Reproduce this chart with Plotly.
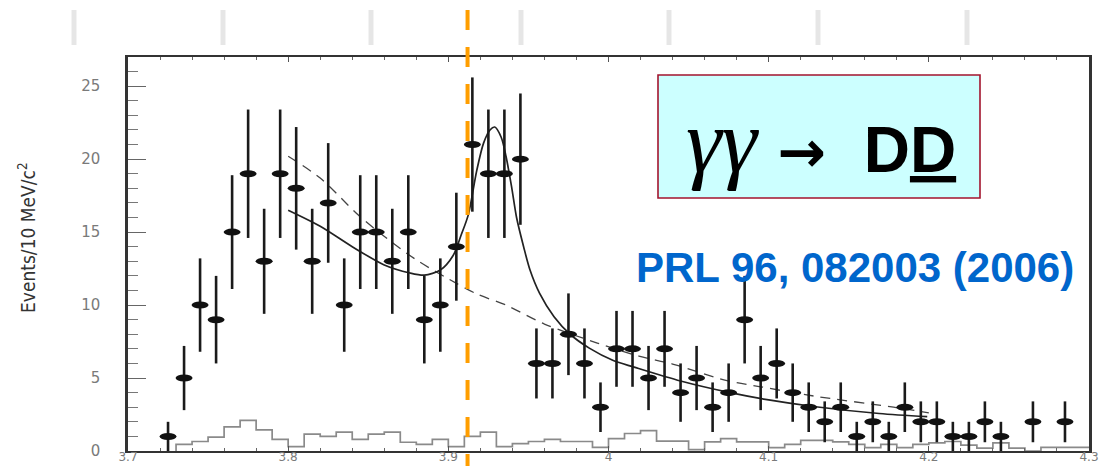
import plotly.graph_objects as go

# ---------------- data ----------------
mass = [3.725, 3.735, 3.745, 3.755, 3.765, 3.775, 3.785, 3.795, 3.805, 3.815,
        3.825, 3.835, 3.845, 3.855, 3.865, 3.875, 3.885, 3.895, 3.905, 3.915,
        3.925, 3.935, 3.945, 3.955, 3.965, 3.975, 3.985, 3.995, 4.005, 4.015,
        4.025, 4.035, 4.045, 4.055, 4.065, 4.075, 4.085, 4.095, 4.105, 4.115,
        4.125, 4.135, 4.145, 4.155, 4.165, 4.175, 4.185, 4.195, 4.205, 4.215,
        4.225, 4.235, 4.245, 4.265, 4.285]
events = [1, 5, 10, 9, 15, 19, 13, 19, 18, 13,
          17, 10, 15, 15, 13, 15, 9, 10, 14, 21,
          19, 19, 20, 6, 6, 8, 6, 3, 7, 7,
          5, 7, 4, 5, 3, 4, 9, 5, 6, 4,
          3, 2, 3, 1, 2, 1, 3, 2, 2, 1,
          1, 2, 1, 2, 2]
errors = [1.0, 2.2, 3.2, 3.0, 3.9, 4.4, 3.6, 4.4, 4.2, 3.6,
          4.1, 3.2, 3.9, 3.9, 3.6, 3.9, 3.0, 3.2, 3.7, 4.6,
          4.4, 4.4, 4.5, 2.4, 2.4, 2.8, 2.4, 1.7, 2.6, 2.6,
          2.2, 2.6, 2.0, 2.2, 1.7, 2.0, 3.0, 2.2, 2.4, 2.0,
          1.7, 1.4, 1.7, 1.0, 1.4, 1.0, 1.7, 1.4, 1.4, 1.0,
          1.0, 1.4, 1.0, 1.4, 1.4]

# background (sideband) histogram: lower bin edges and contents
hist_lo = [3.73, 3.74, 3.75, 3.76, 3.77, 3.78, 3.79, 3.80, 3.81, 3.82,
           3.83, 3.84, 3.85, 3.86, 3.87, 3.88, 3.89, 3.90, 3.91, 3.92,
           3.93, 3.94, 3.95, 3.96, 3.97, 3.98, 3.99, 4.00, 4.01, 4.02,
           4.03, 4.04, 4.05, 4.06, 4.07, 4.08, 4.09, 4.10, 4.11, 4.12,
           4.13, 4.14, 4.15, 4.16, 4.17, 4.18, 4.19, 4.20, 4.21, 4.22,
           4.23, 4.24, 4.25, 4.26, 4.27, 4.28, 4.29]
hist_val = [0.45, 0.65, 0.95, 1.65, 2.1, 1.45, 0.8, 0.3, 1.15, 1.0,
            1.3, 0.8, 1.15, 1.3, 0.6, 0.45, 0.8, 0.3, 1.0, 1.3,
            0.3, 0.5, 0.65, 0.8, 0.65, 0.65, 0.25, 0.85, 1.2, 1.4,
            0.68, 0.68, 0.1, 0.62, 0.85, 0.62, 0.62, 0.23, 0.45, 0.73,
            0.73, 0.62, 0.45, 0.23, 0.45, 0.23, 0.45, 0.55, 0.65, 0.4,
            0.2, 0.55, 0.2, 0.0, 0.25, 0.25, 0.25]
hist_hi = 4.30

# fit: signal + background (solid)
fit_x = [3.800, 3.820, 3.840, 3.860, 3.876, 3.885, 3.895, 3.903, 3.908, 3.9125,
         3.9177, 3.922, 3.926, 3.929, 3.933, 3.936, 3.9395, 3.9426, 3.947, 3.951,
         3.957, 3.966, 3.976, 3.988, 4.003, 4.016, 4.045, 4.076, 4.100, 4.128,
         4.169, 4.199]
fit_y = [16.5, 15.4, 14.0, 12.75, 12.2, 12.05, 12.4, 13.4, 14.8, 16.2,
         19.2, 21.1, 22.0, 22.2, 21.5, 20.2, 18.1, 16.0, 14.0, 12.4,
         10.8, 9.2, 8.0, 7.05, 6.2, 5.75, 4.8, 4.0, 3.5, 3.05,
         2.57, 2.35]

# background-only fit (dashed)
bg_x = [3.800, 3.820, 3.845, 3.866, 3.880, 3.900, 3.918, 3.936, 3.960, 3.993,
        4.019, 4.040, 4.074, 4.095, 4.128, 4.178, 4.200]
bg_y = [20.2, 18.7, 16.05, 14.2, 13.1, 11.8, 10.75, 10.0, 8.7, 7.4,
        6.5, 5.96, 4.82, 4.4, 3.77, 3.0, 2.62]

x_tickvals = [3.7, 3.8, 3.9, 4.0, 4.1, 4.2, 4.3]
x_ticktext = ["3.7", "3.8", "3.9", "4", "4.1", "4.2", "4.3"]
y_tickvals = [0, 5, 10, 15, 20, 25]
y_ticktext = ["0", "5", "10", "15", "20", "25"]

marker_line_x = 3.912          # orange dashed marker position
deco_bar_px = [74, 223, 371, 521, 669, 818, 967]   # slide decoration (pixels)

# ---------------- layout geometry ----------------
W_PX, H_PX = 1099, 466
L, R, T, B = 128, 1089, 57, 451


def px(x):
    return (x - L) / (R - L)


def py(y):
    return (B - y) / (B - T)


fig = go.Figure()

# background histogram (step)
step_x = [hist_lo[0]] + hist_lo + [hist_hi]
step_y = [0] + hist_val + [hist_val[-1]]
fig.add_trace(go.Scatter(x=step_x, y=step_y, mode="lines", line_shape="hv",
                         line=dict(color="#8a8a8a", width=1.7),
                         hoverinfo="skip", showlegend=False))

# background-only curve (dashed)
fig.add_trace(go.Scatter(x=bg_x, y=bg_y, mode="lines", line_shape="spline",
                         line=dict(color="#444444", width=1.3, dash="10px,7px",
                                   smoothing=0.9),
                         hoverinfo="skip", showlegend=False))

# signal + background fit (solid)
fig.add_trace(go.Scatter(x=fit_x, y=fit_y, mode="lines", line_shape="spline",
                         line=dict(color="#222222", width=1.7, smoothing=0.8),
                         hoverinfo="skip", showlegend=False))

# data with error bars
fig.add_trace(go.Scatter(x=mass, y=events, mode="markers",
                         marker=dict(size=2, color="#111111"),
                         error_y=dict(type="data", array=errors, visible=True,
                                      color="#1a1a1a", thickness=2.6, width=0),
                         showlegend=False))

shapes = []
# decorative light-gray bars at top of slide
for bx in deco_bar_px:
    shapes.append(dict(type="line", xref="paper", yref="paper",
                       x0=px(bx), x1=px(bx), y0=py(10), y1=py(45),
                       line=dict(color="#e6e6e6", width=5), layer="above"))

# orange dashed vertical marker
shapes.append(dict(type="line", xref="x", yref="paper",
                   x0=marker_line_x, x1=marker_line_x, y0=py(10), y1=py(470),
                   line=dict(color="#FF9E00", width=4, dash="20px,17px"),
                   layer="above"))

# elliptical data markers
for m, v in zip(mass, events):
    shapes.append(dict(type="circle", xref="x", yref="y",
                       x0=m - 0.0053, x1=m + 0.0053, y0=v - 0.24, y1=v + 0.24,
                       fillcolor="#111111", line=dict(width=0), layer="above"))

# reaction label box
shapes.append(dict(type="rect", xref="paper", yref="paper",
                   x0=px(658), x1=px(980), y0=py(198), y1=py(75),
                   fillcolor="#CCFFFF", line=dict(color="#A3142E", width=1.6),
                   layer="above"))

annotations = [
    dict(xref="paper", yref="paper", x=px(821), y=py(141),
         xanchor="center", yanchor="middle", showarrow=False,
         text=('<span style="font-family:Liberation Serif;font-style:italic;'
               'font-size:90px">γγ</span>'
               '<span style="font-family:DejaVu Sans;font-weight:bold;'
               'font-size:58px">\u00a0→\u00a0</span>'
               '<span style="font-family:Liberation Sans;font-weight:bold;'
               'font-size:64px">\u00a0D<u>D</u></span>'),
         font=dict(color="#000000", size=62, family="Liberation Sans")),
    dict(xref="paper", yref="paper", x=px(855), y=py(267),
         xanchor="center", yanchor="middle", showarrow=False,
         text="<b>PRL 96, 082003 (2006)</b>",
         font=dict(color="#0066CC", size=42, family="Liberation Sans, Arial")),
    dict(xref="paper", yref="paper", x=px(27), y=py(238),
         xanchor="center", yanchor="middle", showarrow=False, textangle=-90,
         text="Events/10 MeV/c<sup>2</sup>",
         font=dict(color="#333333", size=19,
                   family="Liberation Sans Narrow, DejaVu Sans Condensed, Liberation Sans")),
]

fig.update_layout(
    width=W_PX, height=H_PX,
    margin=dict(l=L, r=W_PX - R, t=T, b=H_PX - B, autoexpand=False),
    paper_bgcolor="white", plot_bgcolor="white",
    showlegend=False,
    shapes=shapes, annotations=annotations,
    xaxis=dict(range=[3.7, 4.3], tickvals=x_tickvals, ticktext=x_ticktext,
               ticks="inside", ticklen=5, tickwidth=1.2, tickcolor="#555555",
               minor=dict(dtick=0.02, tick0=3.7, ticks="inside", ticklen=3,
                          tickcolor="#666666", tickwidth=1.2),
               showline=True, linecolor="#333333", linewidth=2, mirror="allticks",
               showgrid=False, zeroline=False, automargin=False,
               ticklabelstandoff=-6,
               tickfont=dict(family="DejaVu Sans", size=12, color="#7a7a7a")),
    yaxis=dict(range=[0, 27], tickvals=y_tickvals, ticktext=y_ticktext,
               ticks="inside", ticklen=18, tickwidth=1.2, tickcolor="#666666",
               minor=dict(dtick=1, ticks="inside", ticklen=10,
                          tickcolor="#777777", tickwidth=1.1),
               showline=True, linecolor="#333333", linewidth=2.5, mirror=True,
               showgrid=False, zeroline=False, ticklabelstandoff=22,
               automargin=False,
               tickfont=dict(family="DejaVu Sans", size=15, color="#7a7a7a")),
)

fig.write_html("out.html")
